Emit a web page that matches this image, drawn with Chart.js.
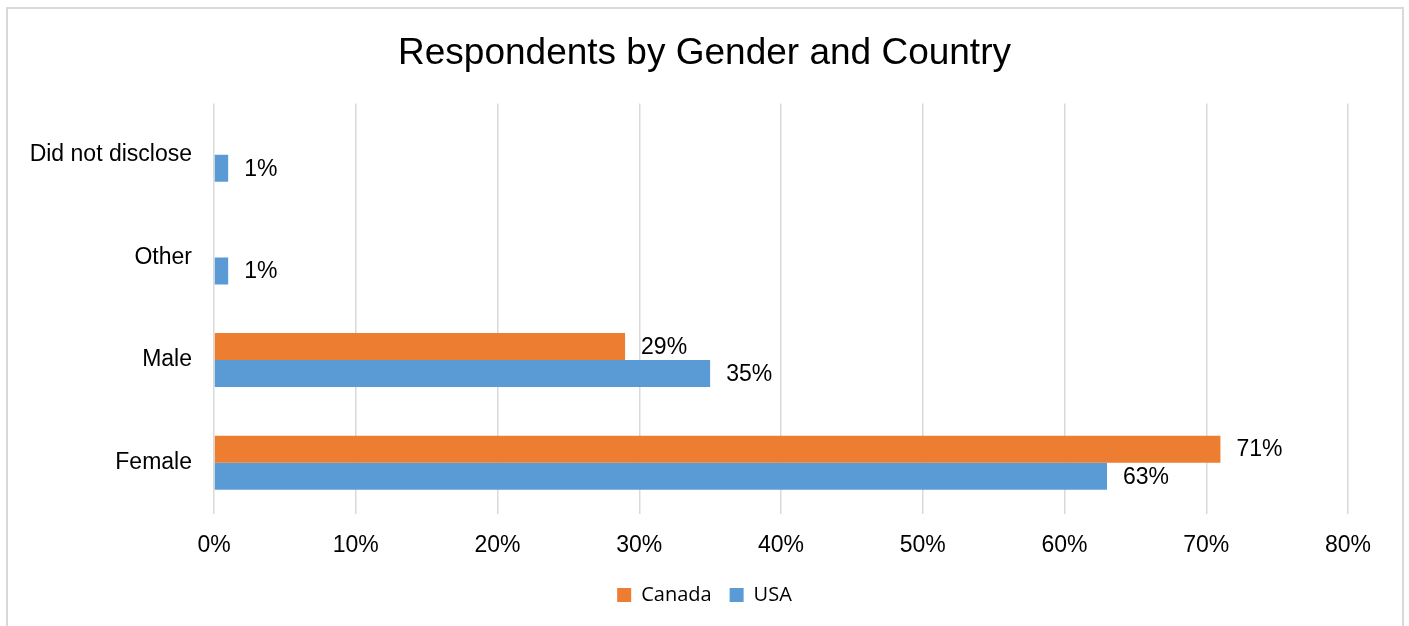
<!DOCTYPE html>
<html>
<head>
<meta charset="utf-8">
<script src="https://cdn.jsdelivr.net/npm/chart.js@4.4.1/dist/chart.umd.min.js"></script>
<style>
  html, body { margin: 0; padding: 0; background: #fff; overflow: hidden; }
  #wrap { position: absolute; left: 0; top: 0; width: 1409px; height: 626px; }
  #frame { position: absolute; left: 6px; top: 7px; width: 1394px; height: 700px; border: 2px solid #d9d9d9; pointer-events: none; }
</style>
</head>
<body>
<div id="wrap"><canvas id="c" width="1409" height="626"></canvas></div>
<div id="frame"></div>
<script>
const categories = ['Did not disclose', 'Other', 'Male', 'Female'];
const canadaValues = [null, null, 29, 71];
const usaValues = [1, 1, 35, 63];
const xTicks = [0, 10, 20, 30, 40, 50, 60, 70, 80];

const FONT = "'Liberation Sans', Arial, sans-serif";

const valueLabels = {
  id: 'valueLabels',
  afterDatasetsDraw(chart) {
    const ctx = chart.ctx;
    ctx.save();
    ctx.font = '23px ' + FONT;
    ctx.fillStyle = '#000';
    ctx.textBaseline = 'middle';
    ctx.textAlign = 'left';
    chart.data.datasets.forEach((ds, i) => {
      const meta = chart.getDatasetMeta(i);
      meta.data.forEach((bar, j) => {
        const v = ds.data[j];
        if (v === null || v === undefined) return;
        ctx.fillText(v + '%', bar.x + 16, bar.y + 1);
      });
    });
    ctx.restore();
  }
};

new Chart(document.getElementById('c'), {
  type: 'bar',
  data: {
    labels: categories,
    datasets: [
      { label: 'Canada', data: canadaValues, backgroundColor: '#ED7D31', categoryPercentage: 0.527, barPercentage: 1.0 },
      { label: 'USA', data: usaValues, backgroundColor: '#5B9BD5', categoryPercentage: 0.527, barPercentage: 1.0 }
    ]
  },
  options: {
    indexAxis: 'y',
    responsive: false,
    animation: false,
    layout: { padding: { left: 0, right: 0, top: 0, bottom: 11 } },
    plugins: {
      title: {
        display: true,
        text: 'Respondents by Gender and Country',
        color: '#000',
        font: { family: FONT, size: 37, weight: 'normal' },
        padding: { top: 32, bottom: 27 }
      },
      legend: {
        position: 'bottom',
        labels: {
          color: '#000',
          font: { family: "'Open Sans', sans-serif", size: 20 },
          boxWidth: 14,
          boxHeight: 14,
          padding: 18
        }
      },
      tooltip: { enabled: false }
    },
    scales: {
      x: {
        min: 0,
        max: 80,
        afterBuildTicks(scale) { scale.ticks = xTicks.map(v => ({ value: v })); },
        afterFit(scale) { scale.height = 53; },
        ticks: {
          color: '#000',
          font: { family: FONT, size: 23 },
          padding: 18,
          callback: v => v + '%'
        },
        grid: { color: '#d9d9d9', lineWidth: 1.5, drawTicks: false },
        border: { display: false }
      },
      y: {
        afterFit(scale) { scale.width = 214; },
        ticks: {
          color: '#000',
          font: { family: FONT, size: 23 },
          padding: 22
        },
        grid: { display: false, drawTicks: false },
        border: { display: false }
      },
      yRight: {
        position: 'right',
        display: true,
        afterFit(scale) { scale.width = 61; },
        ticks: { display: false },
        grid: { display: false, drawTicks: false },
        border: { display: false }
      }
    }
  },
  plugins: [valueLabels]
});
</script>
</body>
</html>
